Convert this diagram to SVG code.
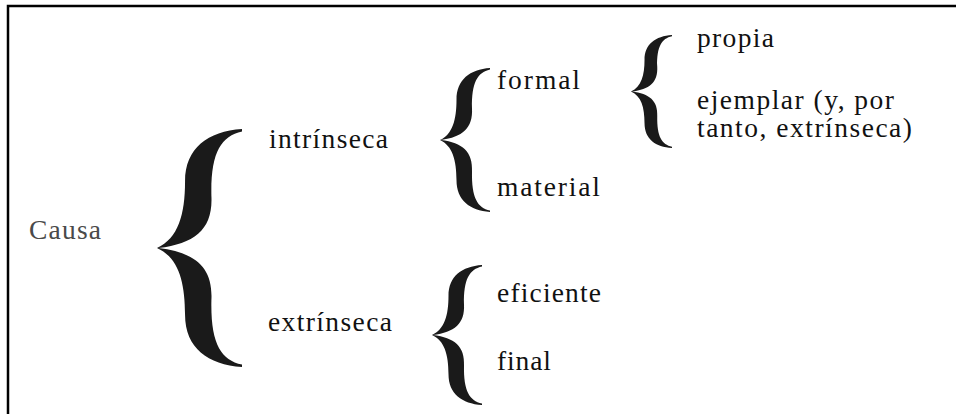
<svg xmlns="http://www.w3.org/2000/svg" xmlns:xlink="http://www.w3.org/1999/xlink" width="956" height="414" viewBox="0 0 956 414">
<style>
.t{font-family:"Liberation Serif","Times New Roman",serif;font-size:27.5px;fill:#111;}
.c{fill:#4a4a4a;}
.b{fill:#1a1a1a;}
.frame{stroke:#000;stroke-width:2.5;fill:none;}
</style>
<defs>
<path id="brace" d="M1,0 C0.6,0.01 0.33,0.08 0.33,0.22 C0.33,0.36 0.25,0.46 0,0.5 C0.25,0.54 0.33,0.64 0.33,0.78 C0.33,0.92 0.6,0.99 1,1 L1,0.99 C0.75,0.97 0.63,0.9 0.64,0.72 C0.66,0.58 0.45,0.52 0.02,0.5 C0.45,0.48 0.66,0.42 0.64,0.28 C0.63,0.1 0.75,0.03 1,0.01 Z"/>
</defs>
<rect width="956" height="414" fill="#fff"/>
<path class="frame" d="M8,414 L8,6 L956,6"/>
<g id="connectors">
<use xlink:href="#brace" class="b" transform="translate(157,129) scale(85,238)"/>
<use xlink:href="#brace" class="b" transform="translate(440,68) scale(50,144)"/>
<use xlink:href="#brace" class="b" transform="translate(631,35) scale(41,113)"/>
<use xlink:href="#brace" class="b" transform="translate(432,265) scale(50,140)"/>
</g>
<g id="causa"><text class="t c" x="29" y="239" textLength="72">Causa</text></g>
<g id="intrinseca"><text class="t" x="269" y="148" textLength="119">intrínseca</text></g>
<g id="extrinseca"><text class="t" x="268" y="331" textLength="124">extrínseca</text></g>
<g id="formal"><text class="t" x="497" y="89" textLength="83">formal</text></g>
<g id="material"><text class="t" x="497" y="196" textLength="103">material</text></g>
<g id="eficiente"><text class="t" x="497" y="302" textLength="104">eficiente</text></g>
<g id="final"><text class="t" x="497" y="370" textLength="54">final</text></g>
<g id="propia"><text class="t" x="697" y="47" textLength="77">propia</text></g>
<g id="ejemplar">
<text class="t" x="697" y="109" textLength="197">ejemplar (y, por</text>
<text class="t" x="697" y="137" textLength="215">tanto, extrínseca)</text>
</g>
</svg>
